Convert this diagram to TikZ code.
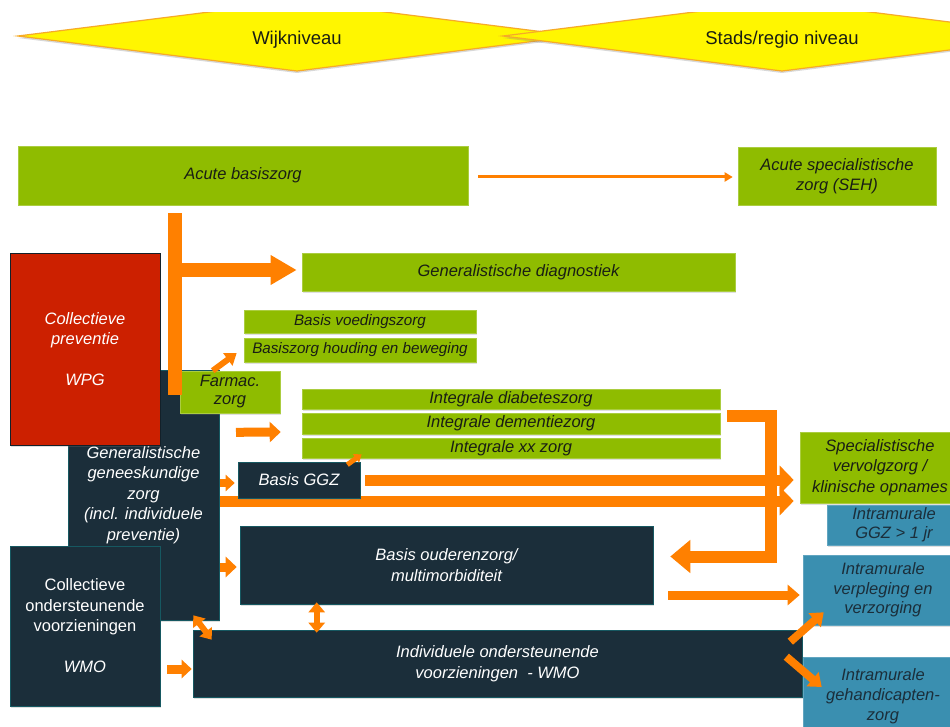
\documentclass[tikz,border=0pt]{standalone}
\usepackage{fontspec}
\setmainfont{Liberation Sans}
\usetikzlibrary{shapes.geometric,arrows.meta,calc,shadows}
\definecolor{cgreen}{RGB}{143,188,0}
\definecolor{cdark}{RGB}{27,46,58}
\definecolor{cred}{RGB}{204,32,0}
\definecolor{cblue}{RGB}{58,143,176}
\definecolor{corange}{RGB}{255,128,0}
\definecolor{cyellow}{RGB}{255,246,0}
\definecolor{cyedge}{RGB}{246,170,40}
\definecolor{ctext}{RGB}{25,30,20}
\pgfdeclarelayer{bg}
\pgfsetlayers{bg,main}
\tikzset{
  basebox/.style={rectangle, inner sep=0pt, align=center,
    font=\fontsize{16.5}{20.5}\selectfont\itshape,
    drop shadow={shadow xshift=1pt, shadow yshift=-1.5pt, opacity=0.25}},
  greenbox/.style={basebox, fill=cgreen, draw=cgreen!75!white, line width=0.6pt, text=ctext},
  darkbox/.style={basebox, fill=cdark, draw=cdark!80!cyan, line width=0.6pt, text=white},
  redbox/.style={basebox, fill=cred, draw=cdark!70!black, line width=0.6pt, text=white},
  bluebox/.style={basebox, fill=cblue, draw=cblue!80!white, line width=0.6pt, text=cdark},
  smalltext/.style={font=\fontsize{15.2}{18}\selectfont\itshape},
  lvlshape/.style={fill=cyellow, draw=cyedge, line width=1.2pt,
    drop shadow={shadow xshift=0pt, shadow yshift=-2pt, opacity=0.3}},
  lvltext/.style={inner sep=0pt, font=\fontsize{18.5}{22}\selectfont, text=ctext},
  obar/.style={draw=corange},
}
\begin{document}
\begin{tikzpicture}[x=1pt,y=-1pt]
\useasboundingbox (0,0) rectangle (950,727);
\clip (0,0) rectangle (950,727);
\begin{pgfonlayer}{bg}
\fill[white] (0,0) rectangle (950,727);
\end{pgfonlayer}

% level diamonds
\begin{scope}
\clip (0,13) rectangle (950,727);
\path[lvlshape] (18,36) -- (297,1) -- (576,36) -- (297,71) -- cycle;
\path[lvlshape] (503,36) -- (782,1) -- (1061,36) -- (782,71) -- cycle;
\end{scope}
\node[lvltext] (wijk) at (297,40) {Wijkniveau};
\node[lvltext] (stad) at (782,40) {Stads/regio niveau};

% boxes
\node[greenbox, minimum width=450, minimum height=59] (acute) at (243,175.5) {Acute basiszorg};
\node[greenbox, minimum width=198, minimum height=58] (seh) at (837,176) {Acute specialistische\\zorg (SEH)};
\node[greenbox, minimum width=433, minimum height=38] (diag) at (518.5,272) {Generalistische diagnostiek};
\node[darkbox, minimum width=151, minimum height=250] (gen) at (143.5,495) {Generalistische\\geneeskundige\\zorg\\(incl. individuele\\preventie)};
\node[redbox, minimum width=150, minimum height=192] (wpg) at (85,349) {Collectieve\\preventie\\\mbox{}\\WPG};
\node[darkbox, minimum width=150, minimum height=160, font=\fontsize{16.5}{20.5}\selectfont\upshape] (cwmo) at (85,626) {Collectieve\\ondersteunende\\voorzieningen\\\mbox{}\\\textit{WMO}};
\node[greenbox, minimum width=100, minimum height=42, font=\fontsize{16.5}{18}\selectfont\itshape] (farmac) at (230,392) {Farmac.\\zorg};
\node[greenbox, smalltext, minimum width=232, minimum height=23] (voed) at (360,321.5) {Basis voedingszorg};
\node[greenbox, smalltext, minimum width=232, minimum height=24] (houd) at (360,350) {Basiszorg houding en beweging};
\node[greenbox, minimum width=418, minimum height=20] (diab) at (511,399) {Integrale diabeteszorg};
\node[greenbox, minimum width=418, minimum height=21] (dem) at (511,423.5) {Integrale dementiezorg};
\node[greenbox, minimum width=418, minimum height=20] (xx) at (511,448) {Integrale xx zorg};
\node[greenbox, minimum width=160, minimum height=71] (spec) at (880,467.5) {Specialistische\\vervolgzorg /\\klinische opnames};
\node[bluebox, minimum width=134, minimum height=40, font=\fontsize{16.5}{19}\selectfont\itshape] (iggz) at (894,525) {Intramurale\\GGZ > 1 jr};
\node[bluebox, minimum width=160, minimum height=70, font=\fontsize{16.5}{19.5}\selectfont\itshape] (iverp) at (883,590) {Intramurale\\verpleging en\\verzorging};
\node[bluebox, minimum width=160, minimum height=78, font=\fontsize{16.5}{20}\selectfont\itshape] (igeh) at (883,696) {Intramurale\\gehandicapten-\\zorg};
\node[darkbox, minimum width=413, minimum height=78] (bouder) at (446.5,565) {Basis ouderenzorg/\\multimorbiditeit};
\node[darkbox, minimum width=609, minimum height=67] (iwmo) at (497.5,663.5) {Individuele ondersteunende\\voorzieningen\ \ - WMO};

% arrow lying under Basis GGZ
\begin{pgfonlayer}{bg}
\draw[obar, line width=11pt, -{Triangle[length=14pt,width=28pt]}] ($(gen.east)+(0,6)$) -- ($(spec.west |- gen.east)+(-6,6)$);
\end{pgfonlayer}
\node[darkbox, minimum width=122, minimum height=36] (bggz) at (299,480) {Basis GGZ};

% connectors
\draw[obar, line width=3pt, -{Triangle[length=8pt,width=9pt]}] ($(acute.east)+(10,1.5)$) -- ($(seh.west)+(-5,1)$);
\coordinate (bartop) at ($(acute.south west)+(157,8)$);
\draw[obar, line width=14pt] (bartop) -- ($(farmac.west)+(-5,3)$);
\draw[obar, line width=14pt, -{Triangle[length=26pt,width=28pt]}] ($(bartop |- diag.west)+(0,-2)$) -- ($(diag.west)+(-5,-2)$);
\draw[obar, line width=6pt, -{Triangle[length=11pt,width=15pt]}] ($(farmac.north west)+(33,0)$) -- ($(houd.west)+(-7,3)$);
\draw[obar, line width=9pt, -{Triangle[length=11pt,width=20pt]}] ($(farmac.south)+(6,19)$) -- ($(dem.west)+(-21,8.5)$);
\draw[obar, line width=5pt, -{Triangle[length=7pt,width=10pt]}] ($(bggz.north east)+(-13,3)$) -- ($(xx.south west)+(60,-4)$);
\draw[obar, line width=11pt, -{Triangle[length=14pt,width=28pt]}] ($(bggz.east)+(5,0)$) -- ($(spec.west |- bggz.east)+(-6,0)$);
\draw[obar, line width=12pt, -{Triangle[length=20pt,width=32pt]}] ($(diab.east)+(7,17)$) -- ++(44,0) |- ($(bouder.east)+(17,-8.5)$);
\draw[obar, line width=9pt, -{Triangle[length=12pt,width=20pt]}] ($(bouder.east)+(15,30)$) -- ($(iverp.west)+(-3,5)$);
\draw[obar, line width=8pt, -{Triangle[length=12pt,width=18pt]}] ($(iwmo.north east)+(-12,12)$) -- ($(iverp.south west)+(21,-13)$);
\draw[obar, line width=8pt, -{Triangle[length=12pt,width=18pt]}] ($(iwmo.north east)+(-16,27)$) -- ($(igeh.west)+(19,-9)$);
\draw[obar, line width=9pt, -{Triangle[length=11pt,width=20pt]}] ($(gen.east)+(1,72)$) -- ($(bouder.west)+(-3,2)$);
\draw[obar, line width=8pt, -{Triangle[length=9pt,width=16pt]}] ($(gen.east)+(1,-12)$) -- ($(bggz.west)+(-3,3)$);
\draw[obar, line width=6pt, {Triangle[length=10pt,width=15pt]}-{Triangle[length=10pt,width=15pt]}] ($(gen.south east)+(-26,-5)$) -- ($(iwmo.north west)+(19,10)$);
\draw[obar, line width=6pt, {Triangle[length=10pt,width=16pt]}-{Triangle[length=10pt,width=16pt]}] ($(bouder.south west)+(77,-2)$) -- ($(iwmo.north west)+(124,3)$);
\draw[obar, line width=9pt, -{Triangle[length=10pt,width=18pt]}] ($(cwmo.east)+(7,43)$) -- ($(iwmo.west)+(-1,5.5)$);
\end{tikzpicture}
\end{document}
